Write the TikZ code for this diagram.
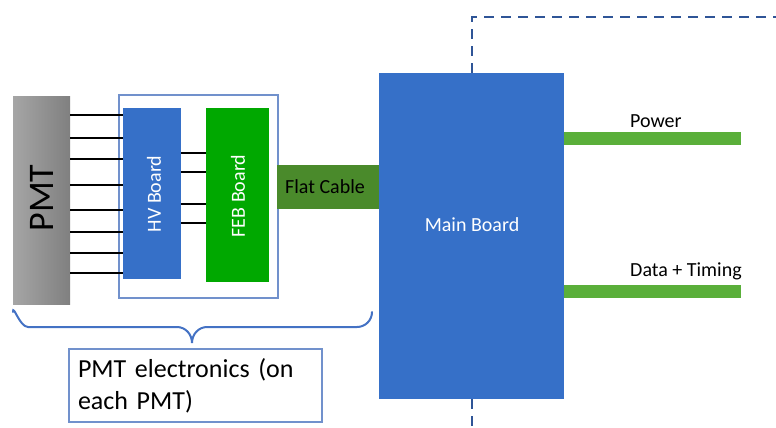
\documentclass[tikz,border=0pt]{standalone}
\usepackage{fontspec}
\setmainfont{Carlito}
\usetikzlibrary{calc}
\definecolor{boardblue}{HTML}{3670C8}
\definecolor{febgreen}{HTML}{00A800}
\definecolor{cablegreen}{HTML}{4A8A2B}
\definecolor{linegreen}{HTML}{5AAF3A}
\definecolor{frameblue}{HTML}{7191CC}
\definecolor{braceblue}{HTML}{4472C4}
\definecolor{dashblue}{HTML}{2F5597}
\tikzset{
  box/.style={rectangle, inner sep=0pt, outer sep=0pt},
  lbl/.style={inner sep=0pt, font=\fontsize{20}{24}\selectfont},
  wire/.style={draw=black, line width=1.5pt},
  bar/.style={draw=linegreen, line width=13pt},
}
\begin{document}
\begin{tikzpicture}[x=1pt,y=-1pt]
\useasboundingbox (0,0) rectangle (776,428);

% photomultiplier tube
\node[box, left color=black!35, right color=black!50, minimum width=57, minimum height=208] (pmt) at (41.5,200) {};
\node[lbl, rotate=90, font=\fontsize{36}{40}\selectfont] (pmtlabel) at (42,198) {PMT};

% frame holding the on-tube electronics
\node[box, draw=frameblue, line width=1.2pt, fill=white, minimum width=159, minimum height=203] (frame) at (198.5,196.5) {};

% HV and FEB boards
\node[box, fill=boardblue, minimum width=58, minimum height=171] (hv) at (152,193.5) {};
\node[lbl, rotate=90, text=white] (hvlabel) at (154,194) {HV Board};
\node[box, fill=febgreen, minimum width=63, minimum height=174] (feb) at (237.5,195) {};
\node[lbl, rotate=90, text=white] (feblabel) at (238,196) {FEB Board};

% PMT pins to HV board
\foreach \yy in {115,138,159,185,210,232,253,273}
  \draw[wire] (pmt.east |- 0,\yy) -- (hv.west |- 0,\yy);
% HV board to FEB board
\foreach \yy in {153,172,204,223}
  \draw[wire] (hv.east |- 0,\yy) -- (feb.west |- 0,\yy);

% flat cable
\node[box, fill=cablegreen, minimum width=102, minimum height=44] (cable) at (328,187) {};
\node[lbl] (cablelabel) at (325,187) {Flat Cable};

% main board
\node[box, fill=boardblue, minimum width=185, minimum height=326] (main) at (471.5,236) {};
\node[lbl, text=white] (mainlabel) at (472,225) {Main Board};

% dashed boundary through the main board
\coordinate (dtop) at (472,17);
\coordinate (dright) at (776,17);
\coordinate (dbot) at (472,428);
\draw[dashblue, line width=2pt, dash pattern=on 10pt off 7pt] (main.north -| dtop) -- (dtop) -- (dright);
\draw[dashblue, line width=2pt, dash pattern=on 10pt off 7pt] (main.south -| dbot) -- (dbot);

% power and data lines
\coordinate (pwr) at (741,138.5);
\coordinate (dat) at (741,291);
\draw[bar] (main.east |- pwr) -- (pwr);
\draw[bar] (main.east |- dat) -- (dat);
\node[lbl, anchor=base west] (pwrlabel) at (630,127) {Power};
\node[lbl, anchor=base west] (datlabel) at (630,276) {Data + Timing};

% brace grouping the per-tube electronics
\draw[braceblue, line width=2pt, line cap=round]
  (13,312) to[out=90,in=180] (28,327) -- (177,327) to[out=0,in=90] (192,343)
  to[out=90,in=180] (207,327) -- (357,327) to[out=0,in=-90] (372,312);
\node[box, draw=frameblue, line width=1.2pt, minimum width=253, minimum height=73,
      text width=235, align=left, inner xsep=9pt, font=\fontsize{26}{32}\selectfont] (note) at (195.5,385.5)
  {PMT electronics (on\\each PMT)};
\end{tikzpicture}
\end{document}
